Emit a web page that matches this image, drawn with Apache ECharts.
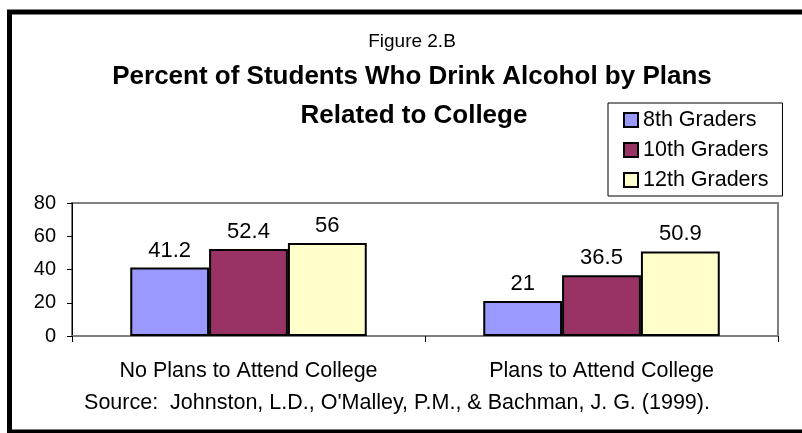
<!DOCTYPE html>
<html><head><meta charset="utf-8">
<script src="https://cdn.jsdelivr.net/npm/echarts@6/dist/echarts.min.js"></script>
<style>html,body{margin:0;padding:0;background:#fff}#c{width:802px;height:433px}</style>
</head><body><div id="c"></div>
<script>
var categories = ['No Plans to Attend College', 'Plans to Attend College'];
var seriesNames = ['8th Graders', '10th Graders', '12th Graders'];
var grade8 = [41.2, 21];
var grade10 = [52.4, 36.5];
var grade12 = [56, 50.9];
var colors = ['#9999FF', '#993366', '#FFFFCC'];
var yTicks = [0, 20, 40, 60, 80];

var FONT = '"Liberation Sans", Arial, sans-serif';
var chart = echarts.init(document.getElementById('c'));
var data = [grade8, grade10, grade12];
chart.setOption({
  animation: false,
  textStyle: {fontFamily: FONT},
  graphic: [
    {type: 'rect', shape: {x: 9.5, y: 12, width: 800, height: 420}, style: {fill: 'none', stroke: '#000', lineWidth: 5}, z: 100},
    {type: 'text', x: 412, y: 42, style: {text: 'Figure 2.B', font: '19px ' + FONT, fill: '#000', align: 'center', verticalAlign: 'middle'}},
    {type: 'text', x: 412, y: 77, style: {text: 'Percent of Students Who Drink Alcohol by Plans', font: 'bold 26px ' + FONT, fill: '#000', align: 'center', verticalAlign: 'middle'}},
    {type: 'text', x: 414, y: 116, style: {text: 'Related to College', font: 'bold 26px ' + FONT, fill: '#000', align: 'center', verticalAlign: 'middle'}},
    {type: 'text', x: 397, y: 403, style: {text: "Source:  Johnston, L.D., O'Malley, P.M., & Bachman, J. G. (1999).", font: '21.5px ' + FONT, fill: '#000', align: 'center', verticalAlign: 'middle'}}
  ],
  legend: {
    orient: 'vertical', left: 608, top: 103,
    padding: [6, 14, 5, 15],
    backgroundColor: '#fff', borderColor: '#000', borderWidth: 1,
    itemWidth: 14, itemHeight: 14, itemGap: 8,
    icon: 'rect',
    data: seriesNames,
    textStyle: {fontSize: 21.5, color: '#000', lineHeight: 20, fontFamily: FONT, padding: [0, 0, 0, 0]}
  },
  grid: {left: 72, right: 24, top: 203, bottom: 97, show: true, borderColor: '#808080', borderWidth: 2, backgroundColor: 'transparent'},
  xAxis: {
    type: 'category', data: categories,
    axisLine: {lineStyle: {color: '#808080', width: 2}},
    axisTick: {show: true, alignWithLabel: false, length: 6, lineStyle: {color: '#000', width: 1}},
    axisLabel: {fontSize: 21.5, color: '#000', margin: 24, fontFamily: FONT}
  },
  yAxis: {
    type: 'value', min: 0, max: 80, interval: 20,
    splitLine: {show: false},
    axisLine: {show: true, lineStyle: {color: '#000', width: 1}},
    axisTick: {show: true, length: 5, lineStyle: {color: '#000'}},
    axisLabel: {fontSize: 20, color: '#000', margin: 16, fontFamily: FONT}
  },
  series: seriesNames.map(function (n, i) {
    return {
      name: n, type: 'bar', data: data[i],
      barGap: '0%', barCategoryGap: '33%',
      itemStyle: {color: colors[i], borderColor: '#000', borderWidth: 2},
      label: {show: true, position: 'top', distance: 6, fontSize: 22, color: '#000', fontFamily: FONT}
    };
  })
});
</script></body></html>
